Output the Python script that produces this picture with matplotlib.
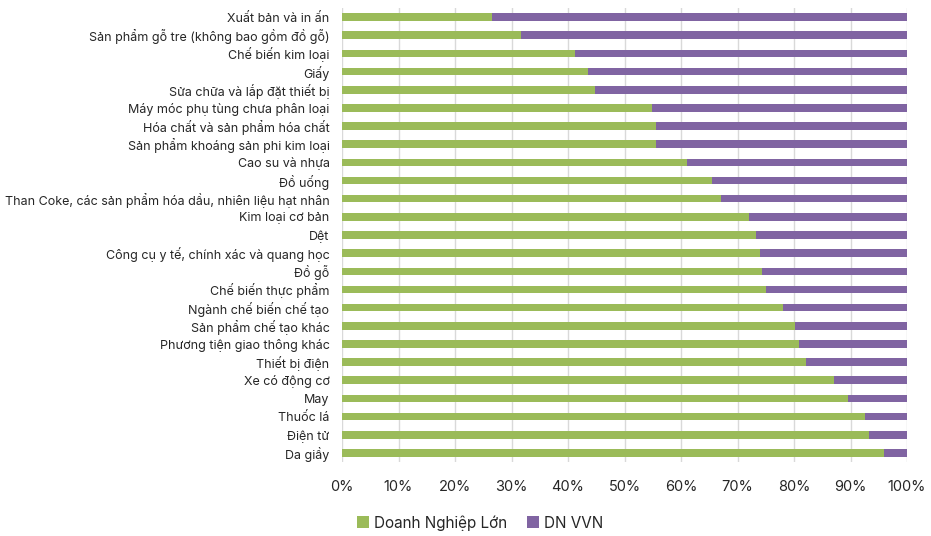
import matplotlib.pyplot as plt
from matplotlib.ticker import PercentFormatter

plt.rcParams['font.family'] = ['Inter', 'DejaVu Sans']

# Ngành, từ trên xuống dưới
nganh = [
    "Xuất bản và in ấn",
    "Sản phẩm gỗ tre (không bao gồm đồ gỗ)",
    "Chế biến kim loại",
    "Giấy",
    "Sửa chữa và lắp đặt thiết bị",
    "Máy móc phụ tùng chưa phân loại",
    "Hóa chất và sản phẩm hóa chất",
    "Sản phẩm khoáng sản phi kim loại",
    "Cao su và nhựa",
    "Đồ uống",
    "Than Coke, các sản phẩm hóa dầu, nhiên liệu hạt nhân",
    "Kim loại cơ bản",
    "Dệt",
    "Công cụ y tế, chính xác và quang học",
    "Đồ gỗ",
    "Chế biến thực phẩm",
    "Ngành chế biến chế tạo",
    "Sản phẩm chế tạo khác",
    "Phương tiện giao thông khác",
    "Thiết bị điện",
    "Xe có động cơ",
    "May",
    "Thuốc lá",
    "Điện tử",
    "Da giầy",
]

# tỷ trọng (%) của doanh nghiệp lớn
dn_lon = [26.5, 31.7, 41.3, 43.5, 44.8, 54.8, 55.6, 55.6, 61.1, 65.4,
          67.0, 72.0, 73.2, 73.9, 74.4, 75.0, 78.0, 80.1, 80.8, 82.2,
          87.1, 89.5, 92.5, 93.2, 96.0]
dn_vvn = [100 - v for v in dn_lon]

fig = plt.figure(figsize=(9.31, 5.36), dpi=100)
ax = fig.add_axes([342 / 931, 1 - 462 / 536, 565 / 931, 454 / 536])

y = range(len(nganh))
ax.barh(y, dn_lon, height=0.42, color='#9BBB59', label='Doanh Nghiệp Lớn', zorder=3)
ax.barh(y, dn_vvn, left=dn_lon, height=0.42, color='#8064A2', label='DN VVN', zorder=3)

ax.set_xlim(0, 100)
ax.set_ylim(len(nganh) - 0.5, -0.5)
ax.set_xticks(range(0, 101, 10))
ax.xaxis.set_major_formatter(PercentFormatter(decimals=0))
ax.set_yticks(list(y))
ax.set_yticklabels(nganh)

ax.grid(axis='x', color='#d9d9d9', linewidth=1, zorder=0)
for s in ax.spines.values():
    s.set_visible(False)
ax.tick_params(axis='both', length=0, colors='#262626')
ax.tick_params(axis='y', labelsize=9, pad=9)
ax.tick_params(axis='x', labelsize=10.5, pad=13)

ax.legend(loc='center', bbox_to_anchor=(0.244, -0.134), ncol=2, frameon=False,
          fontsize=11, handlelength=0.8, handleheight=0.8, handletextpad=0.3,
          columnspacing=1.3, labelcolor='#262626')

fig.savefig('out.png', dpi=100, facecolor='white')
